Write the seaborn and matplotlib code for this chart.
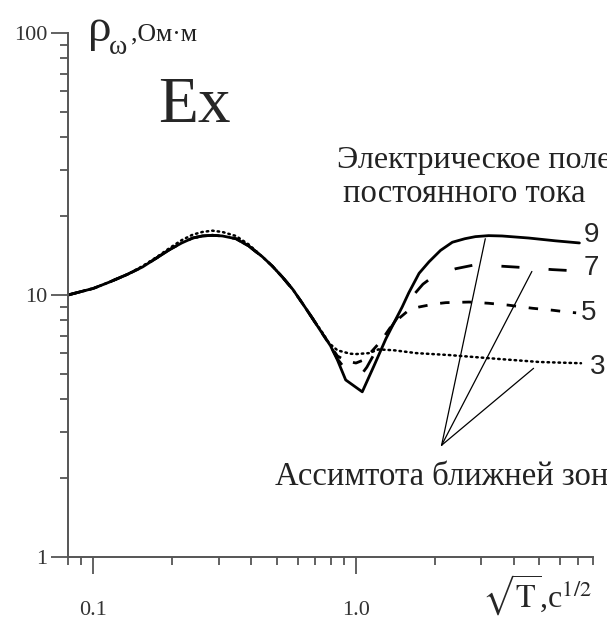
import matplotlib
matplotlib.use("Agg")
import matplotlib.pyplot as plt
import matplotlib.ticker as mticker
import numpy as np
import pandas as pd
import seaborn as sns

# ---------------- data ----------------
x_common = [0.08, 0.10, 0.115, 0.135, 0.154, 0.175, 0.195, 0.217, 0.239, 0.26,
            0.284, 0.31, 0.349, 0.39, 0.44, 0.48, 0.525, 0.575, 0.625, 0.68, 0.744]
y_common = [10.0, 10.6, 11.2, 12.0, 12.8, 13.9, 14.9, 15.8, 16.5, 16.8,
            16.9, 16.8, 16.4, 15.4, 14.0, 12.9, 11.7, 10.5, 9.3, 8.2, 7.14]

x9_tail = [0.80, 0.85, 0.914, 1.057, 1.17, 1.3, 1.415, 1.5, 1.59, 1.74, 1.9,
           2.1, 2.33, 2.6, 2.85, 3.2, 3.6, 4.55, 5.75, 7.1]
y9_tail = [6.4, 5.65, 4.74, 4.27, 5.35, 6.8, 8.04, 9.0, 10.2, 12.1, 13.4,
           14.8, 15.9, 16.4, 16.7, 16.85, 16.8, 16.5, 16.1, 15.8]

x7_tail = [0.80, 0.85, 0.92, 0.98, 1.03, 1.1, 1.2, 1.34, 1.45, 1.6, 1.8, 2.0,
           2.4, 2.8, 3.5, 4.5, 5.6, 6.5, 7.0]
y7_tail = [6.4, 5.7, 5.15, 4.9, 4.85, 5.3, 6.2, 7.35, 8.3, 9.6, 11.0, 11.9,
           12.6, 13.0, 12.9, 12.7, 12.5, 12.4, 12.35]

x5_tail = [0.80, 0.85, 0.92, 1.0, 1.07, 1.15, 1.25, 1.35, 1.45, 1.6, 1.74, 2.0,
           2.2, 2.7, 3.2, 3.8, 4.7, 5.6, 6.45, 6.9]
y5_tail = [6.4, 5.85, 5.6, 5.5, 5.65, 6.1, 6.7, 7.5, 8.1, 8.8, 9.0, 9.25,
           9.35, 9.4, 9.3, 9.15, 8.9, 8.75, 8.6, 8.55]

x3 = [0.08, 0.10, 0.115, 0.135, 0.154, 0.175, 0.195, 0.217, 0.239, 0.26, 0.284,
      0.31, 0.349, 0.39, 0.44, 0.48, 0.525, 0.575, 0.625, 0.68, 0.744, 0.79,
      0.85, 0.95, 1.0, 1.12, 1.22, 1.4, 1.7, 2.26, 3.5, 5.0, 7.2]
y3 = [10.0, 10.6, 11.2, 12.0, 12.9, 14.0, 15.1, 16.2, 17.0, 17.4, 17.6,
      17.4, 16.8, 15.6, 14.0, 12.9, 11.7, 10.5, 9.3, 8.2, 7.2, 6.55,
      6.15, 5.97, 5.95, 6.0, 6.2, 6.15, 6.0, 5.9, 5.7, 5.55, 5.49]

asym_apex = (2.12, 2.67)
asym_x_ends = [3.11, 4.68, 4.75]
asym_y_ends = [16.4, 12.3, 5.25]

curve_labels = ["9", "7", "5", "3"]
x_tick_vals = [0.1, 1.0]
x_tick_text = ["0.1", "1.0"]
y_tick_vals = [1, 10, 100]
y_tick_text = ["1", "10", "100"]

# ---------------- figure ----------------
sns.set_style("ticks")
plt.rcParams["font.family"] = ["Liberation Serif", "DejaVu Serif"]
plt.rcParams["mathtext.fontset"] = "stix"

W, H = 607, 620
fig = plt.figure(figsize=(W / 100, H / 100), dpi=100)
ax = fig.add_axes([68 / W, 63 / H, (593 - 68) / W, (557 - 33) / H])


def frame(xs, ys):
    return pd.DataFrame({"x": xs, "y": ys})


d3 = frame(x3, y3)
d5 = frame(x_common + x5_tail, y_common + y5_tail)
d7 = frame(x_common + x7_tail, y_common + y7_tail)
d9 = frame(x_common + x9_tail, y_common + y9_tail)

sns.lineplot(data=d3, x="x", y="y", ax=ax, color="black", lw=1.8,
             linestyle=(0, (0.6, 1.6)), dash_capstyle="round",
             estimator=None, sort=False)
sns.lineplot(data=d5, x="x", y="y", ax=ax, color="black", lw=2.0,
             linestyle=(0, (3.4, 4.6)), estimator=None, sort=False)
sns.lineplot(data=d7, x="x", y="y", ax=ax, color="black", lw=2.0,
             linestyle=(0, (6.5, 10.5)), estimator=None, sort=False)
sns.lineplot(data=d9, x="x", y="y", ax=ax, color="black", lw=2.0,
             estimator=None, sort=False)

for xe, ye in zip(asym_x_ends, asym_y_ends):
    da = frame([asym_apex[0], xe], [asym_apex[1], ye])
    sns.lineplot(data=da, x="x", y="y", ax=ax, color="black", lw=0.9,
                 estimator=None, sort=False)

ax.set_xscale("log")
ax.set_yscale("log")
ax.set_xlim(0.08, 8)
ax.set_ylim(1, 100)
ax.set_xlabel("")
ax.set_ylabel("")

ax.xaxis.set_major_locator(mticker.FixedLocator(x_tick_vals))
ax.xaxis.set_major_formatter(mticker.FixedFormatter(x_tick_text))
ax.yaxis.set_major_locator(mticker.FixedLocator(y_tick_vals))
ax.yaxis.set_major_formatter(mticker.FixedFormatter(y_tick_text))
ax.xaxis.set_minor_locator(mticker.LogLocator(base=10, subs=np.arange(2, 10), numticks=20))
ax.yaxis.set_minor_locator(mticker.LogLocator(base=10, subs=np.arange(2, 10), numticks=20))
ax.xaxis.set_minor_formatter(mticker.NullFormatter())
ax.yaxis.set_minor_formatter(mticker.NullFormatter())

for s in ["top", "right"]:
    ax.spines[s].set_visible(False)
for s in ["left", "bottom"]:
    ax.spines[s].set_color("#555555")
    ax.spines[s].set_linewidth(1.4)

ax.tick_params(which="both", bottom=True, left=True, top=False, right=False)
ax.tick_params(which="major", direction="out", length=12, width=1.3,
               color="#555555", labelsize=16, labelcolor="#333333", pad=3)
ax.tick_params(axis="x", which="major", pad=20)
ax.tick_params(which="minor", direction="out", length=6, width=1.3,
               color="#555555")
ax.patch.set_alpha(0)


def fx(px):
    return px / W


def fy(py):
    return 1 - py / H


# y-axis title
fig.text(fx(88), fy(41), "ρ", fontsize=34, va="baseline", ha="left")
fig.text(fx(109), fy(54), "ω", fontsize=20, va="baseline", ha="left")
fig.text(fx(131), fy(40), ",Ом·м", fontsize=18.5, va="baseline", ha="left", color="#222222")
# big Ex
fig.text(fx(158), fy(122), "Ex", fontsize=47, va="baseline", ha="left")
# annotations
fig.text(fx(337), fy(168), "Электрическое поле", fontsize=23, va="baseline",
         ha="left", color="#222222")
fig.text(fx(343), fy(202), "постоянного тока", fontsize=23.5, va="baseline",
         ha="left", color="#222222")
fig.text(fx(275), fy(485), "Ассимтота ближней зоны", fontsize=23.5, va="baseline",
         ha="left", color="#222222")
# curve numbers
lab_pos = [(584, 235), (584, 268), (581, 313), (590, 367)]
for t, (px, py) in zip(curve_labels, lab_pos):
    fig.text(fx(px), fy(py), t, fontsize=20, va="center", ha="left",
             family=["Liberation Sans", "DejaVu Sans"])
# x-axis title
fig.text(fx(482), fy(608), r"$\sqrt{\mathrm{T}}$,с$^{1/2}$", fontsize=23,
         va="baseline", ha="left")

fig.savefig("out.png", dpi=100)
